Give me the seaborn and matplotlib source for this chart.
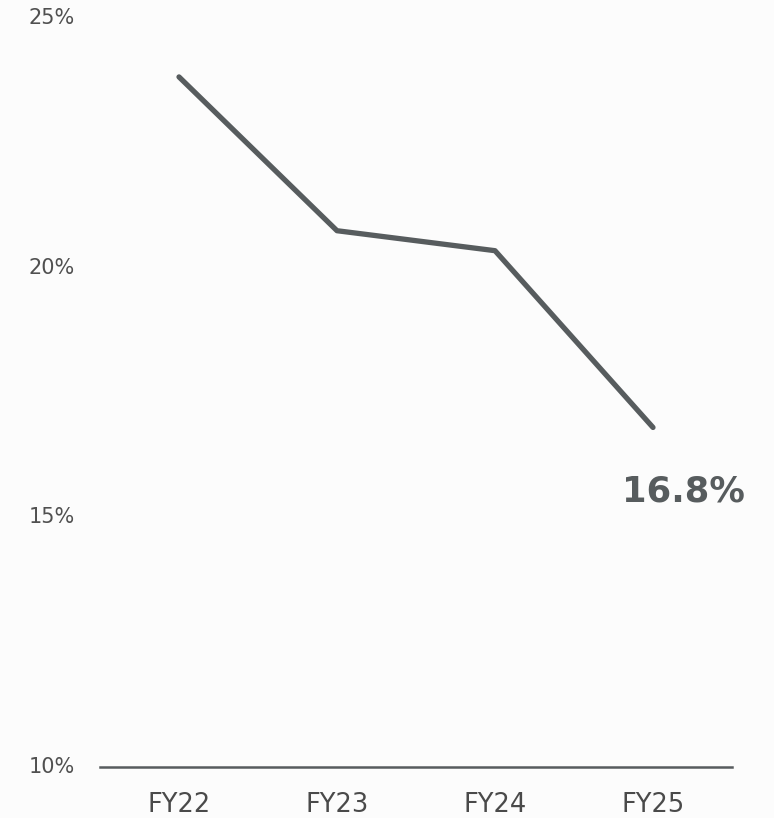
import matplotlib
matplotlib.use("Agg")
import matplotlib.pyplot as plt
import seaborn as sns
import pandas as pd

years = ["FY22", "FY23", "FY24", "FY25"]
values = [23.82, 20.74, 20.34, 16.8]
y_ticks = [10, 15, 20, 25]
y_tick_labels = ["10%", "15%", "20%", "25%"]
last_label = "16.8%"

sns.set_theme(style="white")
plt.rcParams["font.family"] = ["DejaVu Sans"]

df = pd.DataFrame({"year": years, "value": values})

fig = plt.figure(figsize=(7.74, 8.18), dpi=100)
fig.patch.set_facecolor("#fcfcfc")
ax = fig.add_axes([100/774, (818-767)/818, 632/774, (767-18)/818])
ax.set_facecolor("#fcfcfc")

line_color = "#575c5e"
sns.lineplot(data=df, x="year", y="value", ax=ax, color=line_color,
             linewidth=3.8, solid_capstyle="round", solid_joinstyle="round", sort=False)

ax.set_xlim(-0.5, 3.5)
ax.set_ylim(10, 25)
ax.set_yticks(y_ticks)
ax.set_yticklabels(y_tick_labels)
ax.set_xlabel("")
ax.set_ylabel("")
for s in ["top", "right", "left"]:
    ax.spines[s].set_visible(False)
ax.spines["bottom"].set_color(line_color)
ax.spines["bottom"].set_linewidth(1.8)
ax.tick_params(axis="y", length=0, pad=18, labelsize=15, labelcolor="#505050")
ax.tick_params(axis="x", length=0, pad=18, labelsize=18.5, labelcolor="#4a4a4a")
for lab in ax.get_yticklabels():
    lab.set_verticalalignment("center")

ax.annotate(last_label, xy=(3, values[-1]), xytext=(22, -46), textcoords="offset points",
            ha="center", va="center", fontsize=25.5, fontweight="bold", color=line_color,
            annotation_clip=False)

fig.savefig("out.png", dpi=100, facecolor=fig.get_facecolor())
